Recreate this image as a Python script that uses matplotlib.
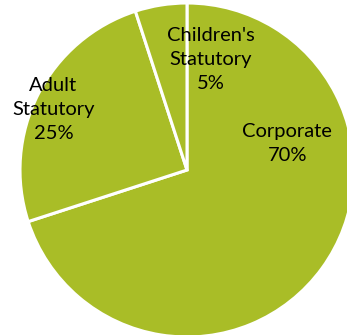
import matplotlib
matplotlib.use("Agg")
import matplotlib.pyplot as plt

labels = ["Corporate", "Adult\nStatutory", "Children's\nStatutory"]
shares = [70, 25, 5]
label_pos = [(0.60, 0.16), (-0.80, 0.36), (0.14, 0.66)]

def main():
    fig = plt.figure(figsize=(3.47, 3.35), dpi=100)
    ax = fig.add_axes([0, 0, 1, 1])
    ax.pie(shares, startangle=90, counterclock=False, radius=1.0,
           colors=["#a9bd27"] * len(shares),
           wedgeprops=dict(edgecolor="white", linewidth=2.2))
    for lab, val, (x, y) in zip(labels, shares, label_pos):
        ax.text(x, y, "%s\n%d%%" % (lab, val), ha="center", va="center",
                fontsize=14.5, family="Lato", linespacing=1.5, color="black")
    ax.set_xlim(-187 / 167, (347 - 187) / 167)
    ax.set_ylim(-(335 - 170) / 167, 170 / 167)
    ax.set_aspect("equal")
    ax.axis("off")
    fig.savefig("out.png", dpi=100)

if __name__ == "__main__":
    main()
